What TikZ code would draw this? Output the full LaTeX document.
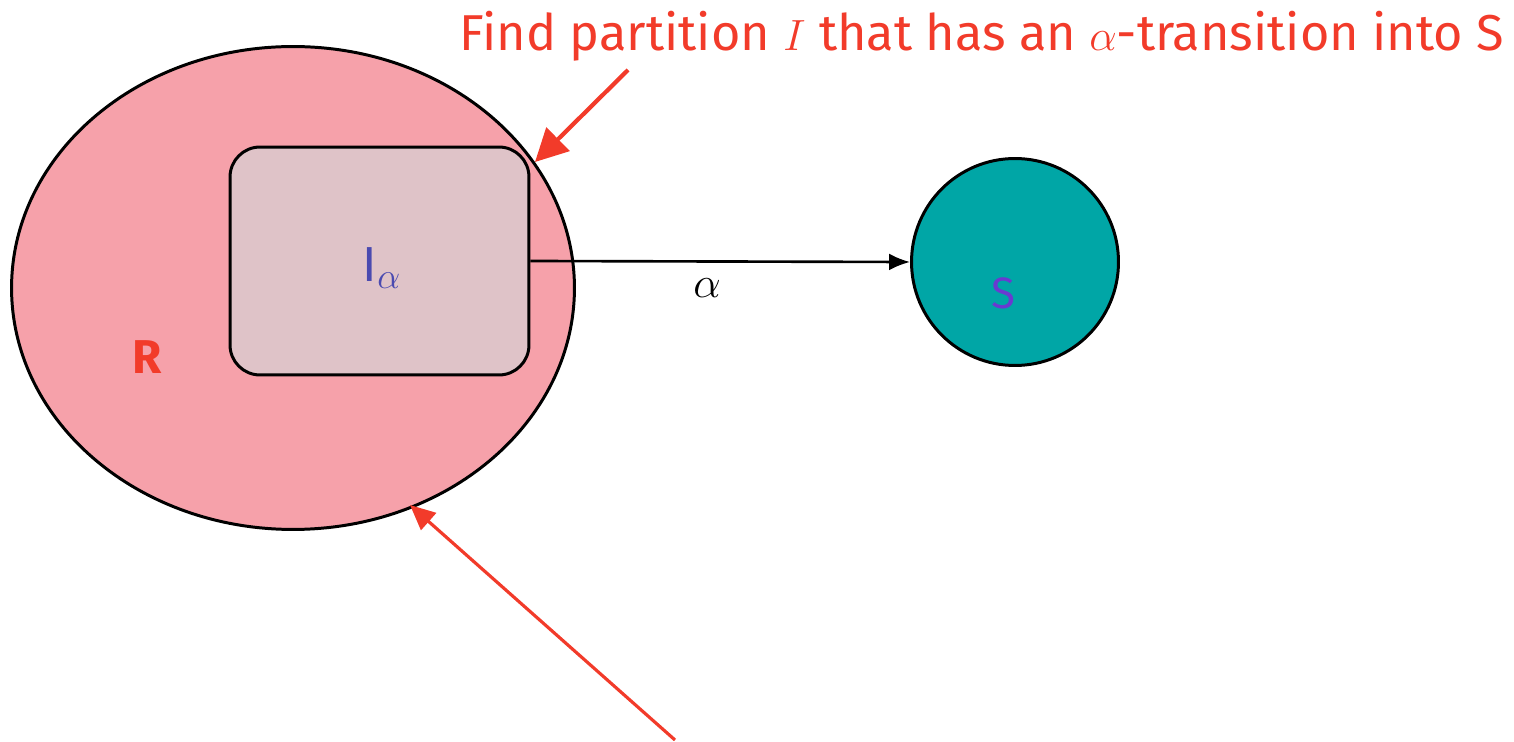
\documentclass[tikz,border=0pt]{standalone}
\usepackage{fontspec}
\setmainfont{Fira Sans}
\usepackage{tikz}
\usetikzlibrary{positioning,shapes.geometric,arrows.meta}
\definecolor{setpink}{HTML}{F6A1AA}
\definecolor{partpink}{HTML}{DFC3C8}
\definecolor{stateteal}{HTML}{00A6A6}
\definecolor{notered}{HTML}{F23B2A}
\definecolor{labelblue}{HTML}{4A4AB0}
\definecolor{labelpurple}{HTML}{6A3AD0}

\begin{document}
\begin{tikzpicture}[
    x=0.02cm, y=-0.02cm,
    line width=1.7pt,
    >=Latex,
    region/.style={
        ellipse,
        draw=black,
        fill=setpink,
        minimum width=11.26cm,
        minimum height=9.66cm,
        inner sep=0pt
    },
    part/.style={
        rectangle,
        rounded corners=0.6cm,
        draw=black,
        fill=partpink,
        minimum width=5.98cm,
        minimum height=4.56cm
    },
    target/.style={
        circle,
        draw=black,
        fill=stateteal,
        minimum size=4.14cm,
        inner sep=0pt
    },
    note/.style={
        draw=notered,
        line width=#1,
    },
]
\useasboundingbox (0,0) rectangle (1514,742);

\node[region] (R) at (293,288) {};
\node[part]   (I) at (379.5,261) {};
\node[target] (S) at (1015,262) {};

\node[text=notered, font=\fontsize{27}{30}\selectfont\bfseries] (Rlabel) at (147,357) {R};
\node[text=labelblue, font=\fontsize{28}{30}\selectfont] (Ilabel) at (382,268) {I$_\alpha$};
\node[text=labelpurple, font=\fontsize{25}{30}\selectfont] (Slabel) at (1003,293) {S};

\draw[->, line width=1.5pt, -{Latex[length=0.42cm,width=0.34cm]}] (I.east) -- (S.west);
\node[font=\fontsize{24}{26}\selectfont] (alpha) at (707,288) {$\alpha$};

\node[text=notered, font=\fontsize{28.7}{34}\selectfont, anchor=west, inner sep=0pt] (title) at (458,36)
    {Find partition $I$ that has an $\alpha$-transition into S};

% pointers
\coordinate (topstart) at (628,70);
\coordinate (topend)   at (535,162);
\draw[note=2.4pt, -{Triangle[length=0.65cm,width=0.65cm]}] (topstart) -- (topend);

\coordinate (botstart) at (675,740);
\coordinate (botend)   at (410,505);
\draw[note=1.8pt, -{Triangle[length=0.5cm,width=0.45cm]}] (botstart) -- (botend);

\end{tikzpicture}
\end{document}
